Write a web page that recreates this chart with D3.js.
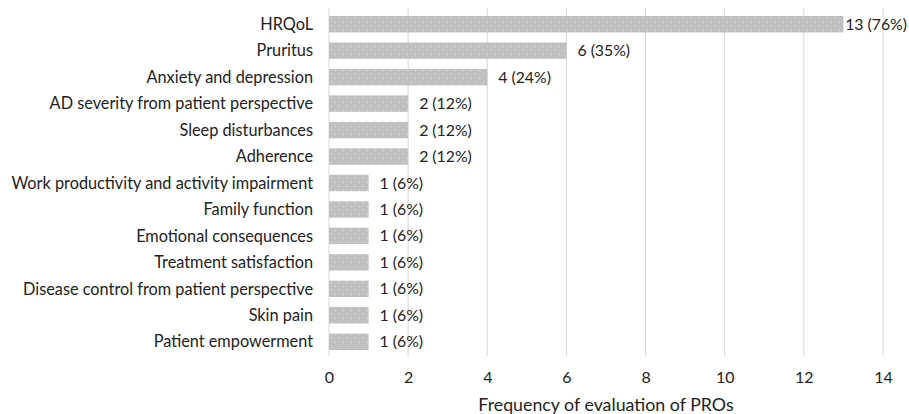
<!DOCTYPE html>
<html><head><meta charset="utf-8">
<script src="https://cdn.jsdelivr.net/npm/d3@7"></script>
<style>body{margin:0;background:#fff;} text{font-family:Lato, "Open Sans", sans-serif;fill:#222;}</style>
</head><body>
<svg id="c" width="909" height="414"></svg>
<script>
const categories = ["HRQoL","Pruritus","Anxiety and depression","AD severity from patient perspective","Sleep disturbances","Adherence ","Work productivity and activity impairment","Family function","Emotional consequences","Treatment satisfaction","Disease control from patient perspective","Skin pain","Patient empowerment"];
const counts = [13,6,4,2,2,2,1,1,1,1,1,1,1];
const percents = [76,35,24,12,12,12,6,6,6,6,6,6,6];
const xTicks = [0,2,4,6,8,10,12,14];
const xTitle = "Frequency of evaluation of PROs";

const svg = d3.select("#c");
const defs = svg.append("defs");
const pat = defs.append("pattern").attr("id","dots").attr("patternUnits","userSpaceOnUse").attr("width",8).attr("height",8);
pat.append("rect").attr("width",8).attr("height",8).attr("fill","#c0c0c0");
pat.append("rect").attr("x",3).attr("y",2).attr("width",1).attr("height",1).attr("fill","#e6e6e6");
pat.append("rect").attr("x",7).attr("y",6).attr("width",1).attr("height",1).attr("fill","#e6e6e6");

const x = d3.scaleLinear().domain([0,14]).range([329,883]);
const y = d3.scaleBand().domain(categories).range([11,355]).paddingInner(0.38).paddingOuter(0.19);

svg.append("g").selectAll("line").data(xTicks).join("line")
  .attr("x1",d=>x(d)).attr("x2",d=>x(d)).attr("y1",8).attr("y2",356)
  .attr("stroke","#d9d9d9").attr("stroke-width",1);

svg.append("g").selectAll("rect").data(categories).join("rect")
  .attr("x",x(0)).attr("y",d=>y(d)).attr("height",y.bandwidth())
  .attr("width",(d,i)=>x(counts[i])-x(0)).attr("fill","url(#dots)");

svg.append("g").selectAll("text").data(categories).join("text")
  .attr("x",313).attr("y",d=>y(d)+y.bandwidth()/2).attr("dy","0.35em")
  .attr("text-anchor","end").attr("font-size",16.3).text(d=>d);

const vl = svg.append("g").selectAll("text").data(categories).join("text")
  .attr("y",d=>y(d)+y.bandwidth()/2).attr("dy","0.35em")
  .attr("font-size",15.8).text((d,i)=>`${counts[i]} (${percents[i]}%)`);
vl.each(function(d,i){
  const w = this.getComputedTextLength();
  d3.select(this).attr("x", Math.min(x(counts[i])+11, 907-w));
});

const ax = svg.append("g").attr("transform","translate(0,372)")
  .call(d3.axisBottom(x).tickValues(xTicks).tickSize(0).tickPadding(0));
ax.select(".domain").remove();
ax.selectAll("text").attr("font-size",16).attr("dy","0.71em").style("font-family","Lato, sans-serif").attr("fill","#222");

svg.append("text").attr("x",606).attr("y",411).attr("text-anchor","middle").attr("font-size",17.8).text(xTitle);
</script></body></html>
